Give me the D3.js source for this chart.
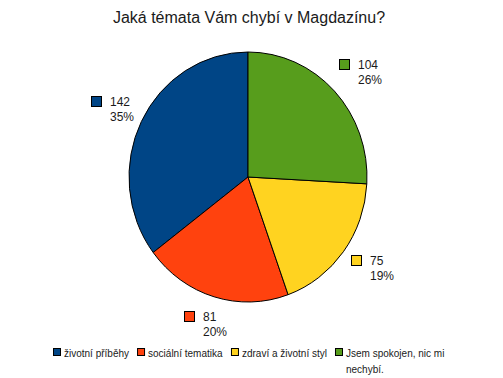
<!DOCTYPE html>
<html>
<head>
<meta charset="utf-8">
<script src="https://cdn.jsdelivr.net/npm/d3@7"></script>
<style>
  body { margin: 0; background: #fff; }
  text { font-family: "Liberation Sans", Arial, sans-serif; fill: #1a1a1a; }
</style>
</head>
<body>
<svg></svg>
<script>
var width = 503;
var height = 378;

var title = "Jaká témata Vám chybí v Magdazínu?";
var categories = ["životní příběhy", "sociální tematika", "zdraví a životní styl", "Jsem spokojen, nic mi nechybí."];
var values = [142, 81, 75, 104];
var colors = ["#004586", "#ff420e", "#ffd320", "#579d1c"];

var cx = 248, cy = 177;
var rx = 119, ry = 125;

var svg = d3.select("svg")
  .attr("width", width)
  .attr("height", height);

svg.append("text")
  .attr("x", 249)
  .attr("y", 23)
  .attr("text-anchor", "middle")
  .style("font-size", "16px")
  .text(title);

var total = d3.sum(values);
var data = categories.map(function (c, i) {
  return {name: c, value: values[i], color: colors[i]};
});

// LibreOffice draws counter-clockwise from 12 o'clock
var pie = d3.pie()
  .sort(null)
  .value(function (d) { return d.value; })
  .startAngle(0)
  .endAngle(-2 * Math.PI);

var arcs = pie(data);

var arc = d3.arc().innerRadius(0).outerRadius(rx);

var g = svg.append("g")
  .attr("transform", "translate(" + cx + "," + cy + ") scale(1," + (ry / rx) + ")");

g.selectAll("path")
  .data(arcs)
  .enter().append("path")
  .attr("d", arc)
  .attr("fill", function (d) { return d.data.color; })
  .attr("stroke", "#000")
  .attr("stroke-width", 1)
  .attr("vector-effect", "non-scaling-stroke");

// value labels: box pushed outward from a point just outside the rim
var k = 1.12, bw = 40, bh = 26;
var labels = svg.append("g").selectAll("g")
  .data(arcs)
  .enter().append("g")
  .attr("transform", function (d) {
    var a = (d.startAngle + d.endAngle) / 2;
    var s = Math.sin(a), c = Math.cos(a);
    var x = cx + rx * k * s + bw / 2 * s - bw / 2;
    var y = cy - ry * k * c - bh / 2 * c - bh / 2;
    return "translate(" + Math.round(x) + "," + Math.round(y) + ")";
  });

labels.append("rect")
  .attr("x", 0.5).attr("y", 0.5)
  .attr("width", 10).attr("height", 10)
  .attr("fill", function (d) { return d.data.color; })
  .attr("stroke", "#000");

labels.append("text")
  .attr("x", 19).attr("y", 10)
  .style("font-size", "12px")
  .text(function (d) { return d.data.value; });

labels.append("text")
  .attr("x", 19).attr("y", 25)
  .style("font-size", "12px")
  .text(function (d) { return Math.round(d.data.value / total * 100) + "%"; });

// legend
var legend = svg.append("g").attr("transform", "translate(53,348)");
var lx = 0;
var maxW = 108;
data.forEach(function (d) {
  var item = legend.append("g").attr("transform", "translate(" + lx + ",0)");
  item.append("rect")
    .attr("x", 0.5).attr("y", 0.5)
    .attr("width", 7).attr("height", 7)
    .attr("fill", d.color)
    .attr("stroke", "#000");
  var t = item.append("text")
    .attr("x", 11).attr("y", 9)
    .style("font-size", "10px");
  // simple word wrap
  var words = d.name.split(" ");
  var line = [];
  var tspan = t.append("tspan").attr("x", 11).attr("dy", 0);
  words.forEach(function (word) {
    line.push(word);
    tspan.text(line.join(" "));
    if (tspan.node().getComputedTextLength() > maxW && line.length > 1) {
      line.pop();
      tspan.text(line.join(" "));
      line = [word];
      tspan = t.append("tspan").attr("x", 11).attr("dy", 16).text(word);
    }
  });
  var w = t.node().getBBox().width;
  lx += 11 + w + 8;
});
</script>
</body>
</html>
